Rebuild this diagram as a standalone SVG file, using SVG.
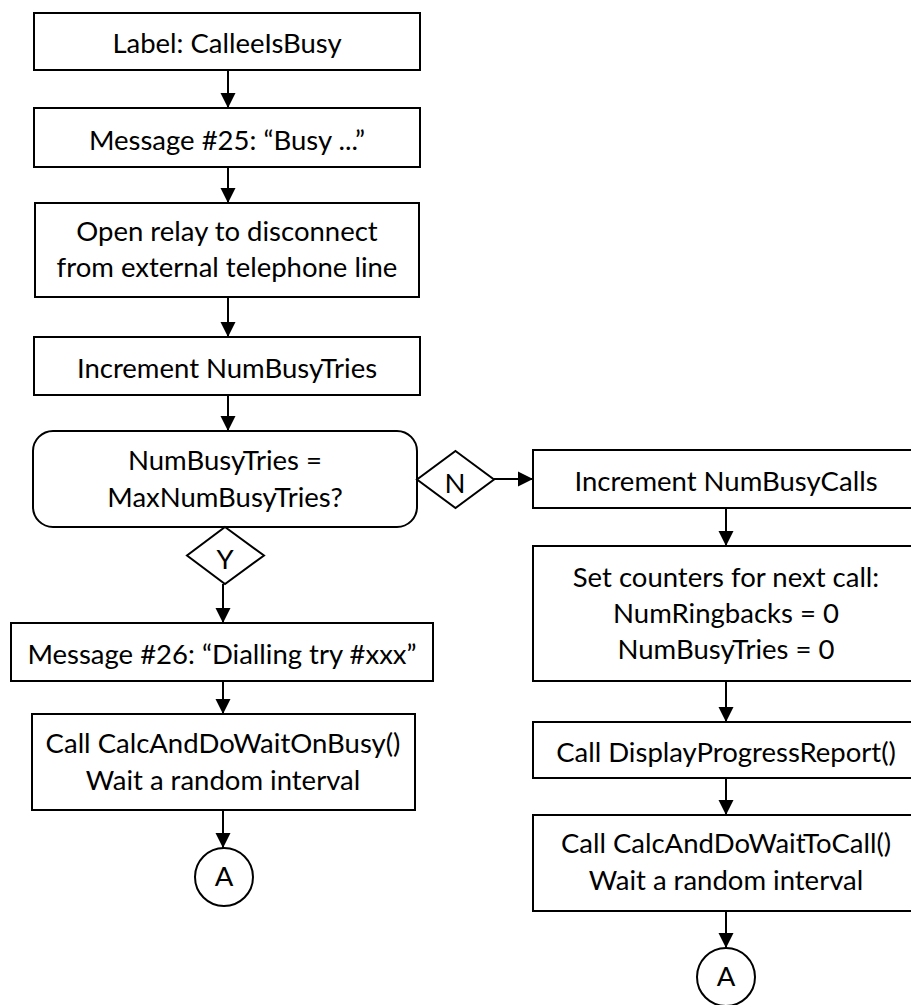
<svg xmlns="http://www.w3.org/2000/svg" width="911" height="1005" viewBox="0 0 911 1005">
  <defs>
    <marker id="arrow" markerUnits="userSpaceOnUse" markerWidth="18" markerHeight="18" viewBox="0 0 18 18" refX="16" refY="9" orient="auto">
      <path d="M1,1.5 L16,9 L1,16.5 Z" fill="#000"/>
    </marker>
    <style>
      .box { fill: #fff; stroke: #000; stroke-width: 2; }
      .conn { fill: none; stroke: #000; stroke-width: 2; marker-end: url(#arrow); }
      text { font-family: Lato, "Open Sans", "Liberation Sans", sans-serif; font-size: 27.5px; fill: #000; text-anchor: middle; }
    </style>
  </defs>
  <rect width="911" height="1005" fill="#fff"/>

  <!-- connectors -->
  <g id="connectors">
    <line class="conn" x1="228" y1="70" x2="228" y2="108"/>
    <line class="conn" x1="228" y1="167" x2="228" y2="203"/>
    <line class="conn" x1="228" y1="297" x2="228" y2="337"/>
    <line class="conn" x1="228" y1="395" x2="228" y2="431"/>
    <line class="conn" x1="223" y1="584" x2="223" y2="623"/>
    <line class="conn" x1="223" y1="681" x2="223" y2="714"/>
    <line class="conn" x1="223" y1="810" x2="223" y2="848"/>
    <line class="conn" x1="494" y1="479" x2="533" y2="479"/>
    <line class="conn" x1="726" y1="508" x2="726" y2="546"/>
    <line class="conn" x1="726" y1="681" x2="726" y2="722"/>
    <line class="conn" x1="726" y1="778" x2="726" y2="815"/>
    <line class="conn" x1="726" y1="911" x2="726" y2="948"/>
  </g>

  <!-- left column -->
  <g id="label-callee-busy">
    <rect class="box" x="34" y="13" width="386" height="57"/>
    <text x="227" y="53">Label: CalleeIsBusy</text>
  </g>
  <g id="message-25">
    <rect class="box" x="34" y="108" width="386" height="59"/>
    <text x="227" y="150">Message #25: “Busy ...”</text>
  </g>
  <g id="open-relay">
    <rect class="box" x="35" y="203" width="384" height="94"/>
    <text x="227" y="241">Open relay to disconnect</text>
    <text x="227" y="277">from external telephone line</text>
  </g>
  <g id="increment-busy-tries">
    <rect class="box" x="34" y="337" width="386" height="58"/>
    <text x="227" y="378">Increment NumBusyTries</text>
  </g>
  <g id="check-max-tries">
    <rect class="box" x="33" y="431" width="384" height="96" rx="20" ry="20"/>
    <text x="225" y="470">NumBusyTries =</text>
    <text x="225" y="507">MaxNumBusyTries?</text>
  </g>
  <g id="branch-yes">
    <polygon class="box" points="225,527 264,555.5 225,584 187,555.5"/>
    <text x="225" y="569">Y</text>
  </g>
  <g id="message-26">
    <rect class="box" x="11" y="623" width="422" height="58"/>
    <text x="222" y="664">Message #26: “Dialling try #xxx”</text>
  </g>
  <g id="wait-on-busy">
    <rect class="box" x="32" y="714" width="383" height="96"/>
    <text x="223" y="753">Call CalcAndDoWaitOnBusy()</text>
    <text x="223" y="790">Wait a random interval</text>
  </g>
  <g id="connector-a-left">
    <circle class="box" cx="224" cy="877" r="29"/>
    <text x="224" y="886">A</text>
  </g>

  <!-- right column -->
  <g id="branch-no">
    <polygon class="box" points="455.5,451 494,479.5 455.5,508 417,479.5"/>
    <text x="455" y="493">N</text>
  </g>
  <g id="increment-busy-calls">
    <rect class="box" x="533" y="450" width="386" height="58"/>
    <text x="726" y="491">Increment NumBusyCalls</text>
  </g>
  <g id="reset-counters">
    <rect class="box" x="533" y="546" width="386" height="135"/>
    <text x="726" y="587">Set counters for next call:</text>
    <text x="726" y="623">NumRingbacks = 0</text>
    <text x="726" y="659">NumBusyTries = 0</text>
  </g>
  <g id="display-progress">
    <rect class="box" x="533" y="722" width="386" height="56"/>
    <text x="726" y="762">Call DisplayProgressReport()</text>
  </g>
  <g id="wait-to-call">
    <rect class="box" x="533" y="815" width="386" height="96"/>
    <text x="726" y="853">Call CalcAndDoWaitToCall()</text>
    <text x="726" y="890">Wait a random interval</text>
  </g>
  <g id="connector-a-right">
    <circle class="box" cx="726" cy="977" r="29"/>
    <text x="726" y="986">A</text>
  </g>
</svg>
